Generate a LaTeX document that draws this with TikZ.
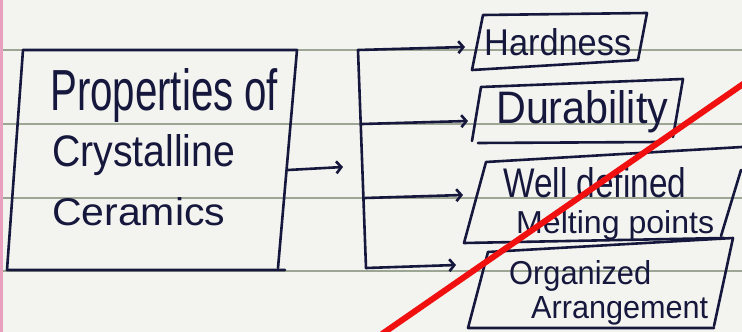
\documentclass[tikz,border=0pt]{standalone}
\usepackage{fontspec}
\setmainfont{Liberation Sans}
\usetikzlibrary{arrows.meta}
\definecolor{paper}{HTML}{F3F3EF}
\definecolor{ink}{HTML}{16173C}
\definecolor{rulecol}{HTML}{9DA695}
\definecolor{margincol}{HTML}{E9A0C0}
\definecolor{redpen}{HTML}{F01010}
\newcommand{\hw}[3]{\resizebox{#1pt}{#2pt}{#3}}
\tikzset{
  pen/.style={draw=ink, line width=2.6pt, line join=round, line cap=round},
  arr/.style={pen, -{Straight Barb[length=5pt,width=12pt]}},
  txt/.style={anchor=base west, inner sep=0pt, text=ink},
  ruling/.style={draw=rulecol, line width=2.5pt},
}
\begin{document}
\begin{tikzpicture}[x=1pt,y=-1pt]
\useasboundingbox (0,0) rectangle (742,332);
\fill[paper] (0,0) rectangle (742,332);
\fill[margincol] (0,0) rectangle (3,332);
% ruled lines
\foreach \yy in {50,124,198,271} \draw[ruling] (3,\yy) -- (742,\yy);

% main box
\draw[pen] (23,50) -- (297,50) -- (278,268);
\draw[pen] (23,50) -- (7,270) -- (285,270);
\node[txt] (p1) at (50,110) {\hw{228}{42}{Properties of}};
\node[txt] (p2) at (52,166) {\hw{183}{32}{Crystalline}};
\node[txt] (p3) at (52,225) {\hw{173}{28}{Ceramics}};
\coordinate (mainout) at (288,170);
\coordinate (brin) at (343,167);
\draw[arr] (mainout) -- (brin);

% bracket
\coordinate (brtop) at (358,50);
\coordinate (brb) at (362,124);
\coordinate (brc) at (365,198);
\coordinate (brbot) at (366,268);
\draw[pen] (brtop) -- (brbot);
\coordinate (e1) at (465,47);
\coordinate (e2) at (468,121);
\coordinate (e3) at (463,195);
\coordinate (e4) at (456,265);
\draw[arr] (brtop) -- (e1);
\draw[arr] (brb) -- (e2);
\draw[arr] (brc) -- (e3);
\draw[arr] (brbot) -- (e4);

% Hardness
\draw[pen] (483,15) -- (647,13) -- (638,60) -- (472,70) -- cycle;
\node[txt] (h) at (484,55) {\hw{147}{27}{Hardness}};
% Durability
\draw[pen] (481,87) -- (683,79) -- (673,137);
\draw[pen] (481,87) -- (472,141);
\draw[pen] (478,143) -- (660,142);
\node[txt] (d) at (496,123) {\hw{172}{33}{Durability}};
% Well defined Melting points
\draw[pen] (464,243) -- (486,162) -- (742,147);
\draw[pen] (741,170) -- (721,236);
\draw[pen] (464,243) -- (724,238);
\node[txt] (w1) at (503,197) {\hw{183}{30}{Well defined}};
\node[txt] (w2) at (516,233) {\hw{198}{23}{Melting points}};
% Organized Arrangement
\draw[pen] (488,252) -- (733,238) -- (714,326);
\draw[pen] (488,252) -- (468,328) -- (714,328);
\node[txt] (o1) at (509,284) {\hw{142}{24}{Organized}};
\node[txt] (o2) at (531,318) {\hw{177}{22}{Arrangement}};

% red strike
\draw[redpen, line width=6pt] (382,334) -- (746,82);
\end{tikzpicture}
\end{document}
